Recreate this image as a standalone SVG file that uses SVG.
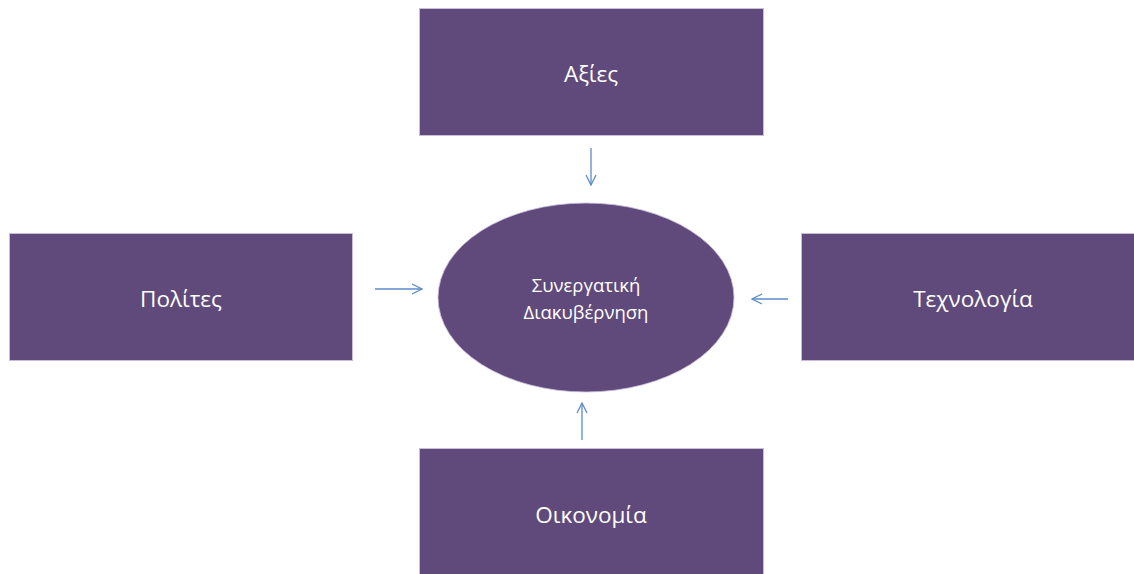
<svg xmlns="http://www.w3.org/2000/svg" width="1134" height="574" viewBox="0 0 1134 574">
  <style>
    .box { fill: #604a7b; stroke: #c9bcd8; stroke-width: 1; }
    .lbl { fill: #ffffff; font-family: "Open Sans", "Liberation Sans", sans-serif; font-size: 22.5px; text-anchor: middle; }
    .small { font-size: 18.5px; }
    .conn { stroke: #5b8bc9; stroke-width: 1.3; fill: none; marker-end: url(#head); }
  </style>
  <defs>
    <marker id="head" viewBox="0 0 12 12" refX="11" refY="6" markerWidth="12" markerHeight="12" markerUnits="userSpaceOnUse" orient="auto">
      <path d="M1,1 L11,6 L1,11" fill="none" stroke="#5b8bc9" stroke-width="1.3"/>
    </marker>
  </defs>
  <rect width="1134" height="574" fill="#ffffff"/>

  <g id="axies">
    <rect class="box" x="419.5" y="8.5" width="344" height="127"/>
    <text class="lbl" x="591" y="82">Αξίες</text>
  </g>
  <g id="polites">
    <rect class="box" x="9.5" y="233.5" width="343" height="127"/>
    <text class="lbl" x="181" y="307">Πολίτες</text>
  </g>
  <g id="texnologia">
    <rect class="box" x="801.5" y="233.5" width="333" height="127"/>
    <text class="lbl" x="973" y="307">Τεχνολογία</text>
  </g>
  <g id="oikonomia">
    <rect class="box" x="419.5" y="448.5" width="344" height="127"/>
    <text class="lbl" x="591" y="523">Οικονομία</text>
  </g>
  <g id="synergatiki">
    <ellipse cx="586" cy="297.5" rx="148" ry="94.5" fill="#604a7b" stroke="#c9bcd8" stroke-width="0.8"/>
    <text class="lbl small" x="586" y="292">Συνεργατική</text>
    <text class="lbl small" x="586" y="319">Διακυβέρνηση</text>
  </g>

  <g id="connectors">
    <line class="conn" x1="591" y1="148" x2="591" y2="185"/>
    <line class="conn" x1="375" y1="289" x2="422" y2="289"/>
    <line class="conn" x1="788" y1="299" x2="752" y2="299"/>
    <line class="conn" x1="582" y1="440" x2="582" y2="403"/>
  </g>
</svg>
